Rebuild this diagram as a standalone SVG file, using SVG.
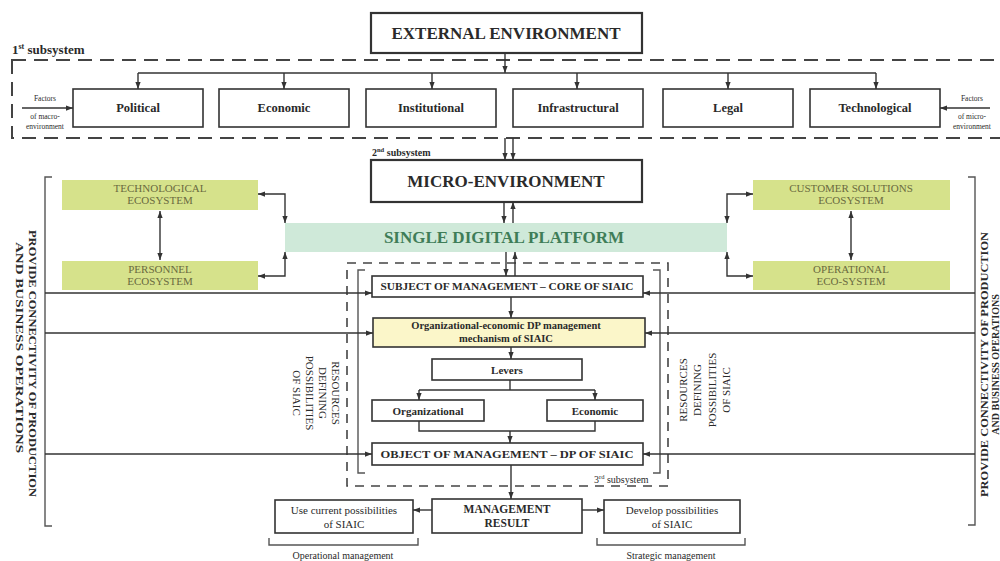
<svg xmlns="http://www.w3.org/2000/svg" width="1000" height="561" viewBox="0 0 1000 561">
<style>
text{font-family:"Liberation Serif","Times New Roman",serif;fill:#2a2a2a}
.b{font-weight:bold}
.box{fill:#fff;stroke:#333;stroke-width:1.6}
.big{stroke-width:2.2}
.eco{fill:#d6e28b;stroke:none}
.et{fill:#6a6a40;font-size:11px}
.ln{fill:none;stroke:#333;stroke-width:1.4}
.dash1{fill:none;stroke:#444;stroke-width:2;stroke-dasharray:14 8}
.dash3{fill:none;stroke:#444;stroke-width:1.6;stroke-dasharray:9 7}
.br{fill:none;stroke:#555;stroke-width:1.4}
.sm{font-size:7.5px}
</style>
<defs>
<marker id="ah" viewBox="0 0 8 6" refX="8" refY="3" markerWidth="7" markerHeight="5.5" orient="auto-start-reverse" markerUnits="userSpaceOnUse"><path d="M0,0 L8,3 L0,6 z" fill="#333"/></marker>
</defs>

<!-- frames -->
<g id="subsystem1">
<rect class="dash1" x="12" y="60" width="996" height="78"/>
<text class="b" x="12" y="54" font-size="13">1<tspan font-size="8" dy="-5">st</tspan><tspan dy="5"> subsystem</tspan></text>
</g>
<g id="subsystem2-label"><text class="b" x="372" y="156" font-size="10">2<tspan font-size="6.5" dy="-4">nd</tspan><tspan dy="4"> subsystem</tspan></text></g>
<g id="subsystem3">
<rect class="dash3" x="347" y="263" width="321" height="223"/>
<path class="br" d="M365,270 H358 V473 H365 M653,270 H660 V473 H653"/>
<text x="594" y="483" font-size="10">3<tspan font-size="6.5" dy="-4">rd</tspan><tspan dy="4"> subsystem</tspan></text>
</g>
<g id="brackets">
<path class="br" d="M52,177 H45 V526 H52 M968,177 H975 V525 H968"/>
<path class="br" d="M269,538 V545 H418 V538 M597,538 V545 H745 V538"/>
</g>

<!-- nodes -->
<g id="external"><rect class="box big" x="371" y="13" width="271" height="40"/><text class="b" x="506" y="39" font-size="17" text-anchor="middle">EXTERNAL ENVIRONMENT</text></g>
<g id="political"><rect class="box" x="73" y="89" width="130" height="38"/><text class="b" x="138" y="112" font-size="12.5" text-anchor="middle">Political</text></g>
<g id="economic"><rect class="box" x="219" y="89" width="130" height="38"/><text class="b" x="284" y="112" font-size="12.5" text-anchor="middle">Economic</text></g>
<g id="institutional"><rect class="box" x="366" y="89" width="130" height="38"/><text class="b" x="431" y="112" font-size="12.5" text-anchor="middle">Institutional</text></g>
<g id="infrastructural"><rect class="box" x="513" y="89" width="130" height="38"/><text class="b" x="578" y="112" font-size="12.5" text-anchor="middle">Infrastructural</text></g>
<g id="legal"><rect class="box" x="663" y="89" width="130" height="38"/><text class="b" x="728" y="112" font-size="12.5" text-anchor="middle">Legal</text></g>
<g id="technological"><rect class="box" x="810" y="89" width="130" height="38"/><text class="b" x="875" y="112" font-size="12.5" text-anchor="middle">Technological</text></g>
<g id="factors-macro"><text class="sm" text-anchor="middle"><tspan x="45" y="101">Factors</tspan><tspan x="45" y="119">of macro-</tspan><tspan x="45" y="129">environment</tspan></text></g>
<g id="factors-micro"><text class="sm" text-anchor="middle"><tspan x="972" y="101">Factors</tspan><tspan x="972" y="119">of micro-</tspan><tspan x="972" y="129">environment</tspan></text></g>

<g id="micro"><rect class="box big" x="371" y="160" width="271" height="42"/><text class="b" x="506" y="187" font-size="17" text-anchor="middle">MICRO-ENVIRONMENT</text></g>
<g id="sdp"><rect x="285" y="223" width="442" height="29" fill="#cfe9d9"/><text class="b" x="504" y="243" font-size="17" text-anchor="middle" style="fill:#3f7d58">SINGLE DIGITAL PLATFORM</text></g>

<g id="tech-eco"><rect class="eco" x="62" y="180" width="196" height="30"/><text class="et" text-anchor="middle"><tspan x="160" y="192">TECHNOLOGICAL</tspan><tspan x="160" y="204">ECOSYSTEM</tspan></text></g>
<g id="pers-eco"><rect class="eco" x="62" y="261" width="196" height="29"/><text class="et" text-anchor="middle"><tspan x="160" y="273">PERSONNEL</tspan><tspan x="160" y="285">ECOSYSTEM</tspan></text></g>
<g id="cust-eco"><rect class="eco" x="753" y="180" width="197" height="30"/><text class="et" text-anchor="middle"><tspan x="851" y="192">CUSTOMER SOLUTIONS</tspan><tspan x="851" y="204">ECOSYSTEM</tspan></text></g>
<g id="oper-eco"><rect class="eco" x="753" y="261" width="197" height="29"/><text class="et" text-anchor="middle"><tspan x="851" y="273">OPERATIONAL</tspan><tspan x="851" y="285">ECO-SYSTEM</tspan></text></g>

<g id="subject"><rect class="box" x="372" y="276" width="271" height="21"/><text class="b" x="507" y="290" font-size="10.5" text-anchor="middle" textLength="253" lengthAdjust="spacingAndGlyphs">SUBJECT OF MANAGEMENT – CORE OF SIAIC</text></g>
<g id="mechanism"><rect class="box" x="373" y="318" width="272" height="29" style="fill:#fbf6c9"/><text class="b" font-size="10.5" text-anchor="middle"><tspan x="506" y="329">Organizational-economic DP management</tspan><tspan x="506" y="342">mechanism of SIAIC</tspan></text></g>
<g id="levers"><rect class="box" x="432" y="359" width="150" height="21"/><text class="b" x="507" y="374" font-size="11" text-anchor="middle">Levers</text></g>
<g id="organizational"><rect class="box" x="372" y="400" width="112" height="21"/><text class="b" x="428" y="415" font-size="11" text-anchor="middle">Organizational</text></g>
<g id="economic2"><rect class="box" x="547" y="400" width="96" height="21"/><text class="b" x="595" y="415" font-size="11" text-anchor="middle">Economic</text></g>
<g id="object"><rect class="box" x="372" y="443" width="271" height="22"/><text class="b" x="507" y="458" font-size="10.5" text-anchor="middle" textLength="253" lengthAdjust="spacingAndGlyphs">OBJECT OF MANAGEMENT – DP OF SIAIC</text></g>
<g id="result"><rect class="box" x="432" y="499" width="150" height="34"/><text class="b" font-size="11.5" text-anchor="middle"><tspan x="507" y="513">MANAGEMENT</tspan><tspan x="507" y="527">RESULT</tspan></text></g>
<g id="use-current"><rect class="box" x="275" y="500" width="138" height="33"/><text font-size="11" text-anchor="middle"><tspan x="344" y="514">Use current possibilities</tspan><tspan x="344" y="528">of SIAIC</tspan></text></g>
<g id="develop"><rect class="box" x="604" y="500" width="136" height="33"/><text font-size="11" text-anchor="middle"><tspan x="672" y="514">Develop possibilities</tspan><tspan x="672" y="528">of SIAIC</tspan></text></g>
<g id="labels-bottom"><text x="343" y="559" font-size="10" text-anchor="middle">Operational management</text><text x="671" y="559" font-size="10" text-anchor="middle">Strategic management</text></g>

<g id="side-texts">
<text class="b" font-size="11" transform="translate(28.5,0) rotate(90)"><tspan x="230" y="0" textLength="267" lengthAdjust="spacingAndGlyphs">PROVIDE CONNECTIVITY OF PRODUCTION</tspan><tspan x="242" y="13" textLength="211" lengthAdjust="spacingAndGlyphs">AND BUSINESS OPERATIONS</tspan></text>
<text class="b" font-size="10" text-anchor="middle" transform="translate(988,364.5) rotate(-90)"><tspan x="0" y="0" textLength="265" lengthAdjust="spacingAndGlyphs">PROVIDE CONNECTIVITY OF PRODUCTION</tspan><tspan x="0" y="10.5">AND BUSINESS OPERATIONS</tspan></text>
<text font-size="11" text-anchor="middle" transform="translate(331.5,393) rotate(90)"><tspan x="0" y="0">RESOURCES</tspan><tspan x="0" y="13">DEFINING</tspan><tspan x="0" y="26">POSSIBILITIES</tspan><tspan x="0" y="39">OF SIAIC</tspan></text>
<text font-size="11" text-anchor="middle" transform="translate(686.5,390) rotate(-90)"><tspan x="0" y="0">RESOURCES</tspan><tspan x="0" y="14.5">DEFINING</tspan><tspan x="0" y="29">POSSIBILITIES</tspan><tspan x="0" y="43.5">OF SIAIC</tspan></text>
</g>

<!-- connectors -->
<g id="connectors" class="ln" marker-end="url(#ah)">
<path d="M505,53 V73"/>
<path d="M138,73 H876" marker-end="none"/>
<path d="M138,73 V89"/><path d="M284,73 V89"/><path d="M432,73 V89"/><path d="M577,73 V89"/><path d="M728,73 V89"/><path d="M876,73 V89"/>
<path d="M22,108 H73"/><path d="M990,108 H940"/>
<path d="M505,138 V160"/><path d="M513,138 V160"/>
<path d="M504,202 V223"/><path d="M513,223 V202"/>
<path d="M285,223 V194 H258" marker-start="url(#ah)"/>
<path d="M285,252 V276 H258" marker-start="url(#ah)"/>
<path d="M160,211 V260" marker-start="url(#ah)"/>
<path d="M727,223 V194 H753" marker-start="url(#ah)"/>
<path d="M727,252 V276 H753" marker-start="url(#ah)"/>
<path d="M851,211 V260" marker-start="url(#ah)"/>
<path d="M506,252 V276"/><path d="M515,276 V252"/>
<path d="M511,297 V318"/>
<path d="M511,347 V359"/>
<path d="M510,380 V390" marker-end="none"/>
<path d="M419,390 H595" marker-end="none"/>
<path d="M419,390 V400"/><path d="M595,390 V400"/>
<path d="M419,421 V431 H595 V421" marker-end="none"/>
<path d="M510,431 V443"/>
<path d="M511,465 V499"/>
<path d="M432,510 H413"/><path d="M582,510 H604"/>
<path d="M45,293 H372"/><path d="M975,293 H643"/>
<path d="M45,333 H373"/><path d="M975,333 H645"/>
<path d="M45,454 H372"/><path d="M975,454 H643"/>
</g>
</svg>
